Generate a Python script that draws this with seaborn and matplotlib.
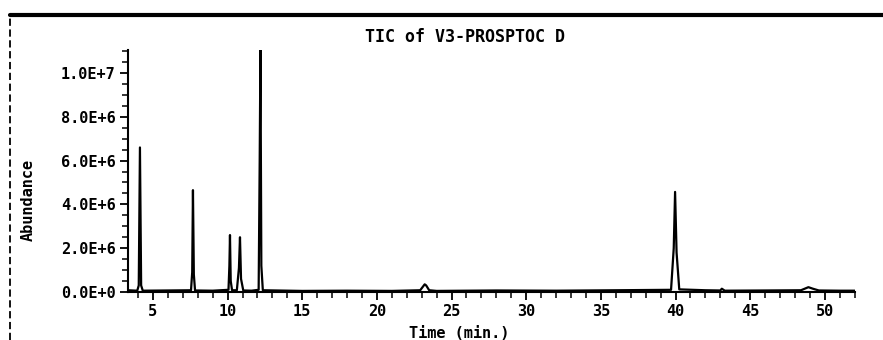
import matplotlib
matplotlib.use("Agg")
import matplotlib.pyplot as plt
from matplotlib.lines import Line2D
from matplotlib.ticker import MultipleLocator, FixedLocator
import seaborn as sns
import pandas as pd

# ---- data ----
title = "TIC of V3-PROSPTOC D"
x_label = "Time (min.)"
y_label = "Abundance"

times = [3.33, 3.95, 4.05, 4.13, 4.21, 4.32, 6.0, 7.55, 7.63, 7.68, 7.74, 7.82,
         9.0, 10.06, 10.12, 10.16, 10.21, 10.3, 10.62, 10.76, 10.83, 10.9, 11.05,
         11.6, 12.08, 12.15, 12.2, 12.26, 12.36, 15.0, 18.0, 21.0, 22.9, 23.2, 23.3,
         23.5, 24.0, 28.0, 32.0, 36.0, 39.7, 39.88, 39.97, 40.07, 40.25, 42.0, 43.0,
         43.1, 43.3, 46.0, 48.4, 48.9, 49.2, 49.6, 51.0, 52.0]
abundance = [0.08e6, 0.06e6, 0.3e6, 6.6e6, 0.3e6, 0.06e6, 0.07e6, 0.08e6, 0.9e6, 4.65e6, 0.8e6, 0.07e6,
             0.06e6, 0.1e6, 1.2e6, 2.6e6, 0.5e6, 0.08e6, 0.08e6, 1.1e6, 2.5e6, 0.6e6, 0.07e6,
             0.06e6, 0.1e6, 6.0e6, 11.05e6, 1.2e6, 0.08e6, 0.05e6, 0.06e6, 0.05e6, 0.08e6, 0.35e6, 0.3e6,
             0.08e6, 0.05e6, 0.07e6, 0.06e6, 0.08e6, 0.1e6, 2.0e6, 4.57e6, 1.8e6, 0.12e6, 0.08e6, 0.07e6,
             0.15e6, 0.06e6, 0.07e6, 0.08e6, 0.22e6, 0.15e6, 0.07e6, 0.06e6, 0.06e6]

x_ticks = [5, 10, 15, 20, 25, 30, 35, 40, 45, 50]
y_ticks = [0, 2e6, 4e6, 6e6, 8e6, 1e7]
y_tick_labels = ["0.0E+0", "2.0E+6", "4.0E+6", "6.0E+6", "8.0E+6", "1.0E+7"]

df = pd.DataFrame({"Time": times, "Abundance": abundance})

sns.set_theme(style="white")
plt.rcParams["font.family"] = ["DejaVu Sans Mono", "DejaVu Sans"]
plt.rcParams["font.weight"] = "bold"
plt.rcParams["text.color"] = "black"

W, H = 883, 340
fig = plt.figure(figsize=(W / 100, H / 100), dpi=100)
ax = fig.add_axes([128 / W, 1 - 292 / H, (855 - 128) / W, (292 - 50) / H])

sns.lineplot(data=df, x="Time", y="Abundance", sort=False, estimator=None,
             color="black", linewidth=1.6, ax=ax)

ax.set_xlim(3.33, 52.02)
ax.set_ylim(0, 11.05e6)

ax.xaxis.set_major_locator(FixedLocator(x_ticks))
ax.xaxis.set_minor_locator(MultipleLocator(1))
ax.set_xticklabels([str(t) for t in x_ticks])
ax.yaxis.set_major_locator(FixedLocator(y_ticks))
ax.yaxis.set_minor_locator(MultipleLocator(5e5))
ax.set_yticklabels(y_tick_labels)

ax.tick_params(axis="both", which="major", direction="out", length=6, width=1.3,
               color="black", labelsize=11, labelcolor="black", pad=3)
ax.tick_params(axis="both", which="minor", direction="out", length=4, width=1.1,
               color="black")
ax.tick_params(axis="x", bottom=True, which="both")
ax.tick_params(axis="y", left=True, which="both")

for s in ["top", "right"]:
    ax.spines[s].set_visible(False)
for s in ["left", "bottom"]:
    ax.spines[s].set_color("black")
    ax.spines[s].set_linewidth(1.5)

ax.set_xlabel("")
ax.set_ylabel("")
fig.text(459 / W, 1 - 333 / H, x_label, ha="center", va="center", fontsize=11,
         fontweight="bold", color="black")
fig.text(28 / W, 1 - 200 / H, y_label, ha="center", va="center", rotation=90,
         fontsize=11, fontweight="bold", color="black")
fig.text(465 / W, 1 - 37 / H, title, ha="center", va="center", fontsize=12,
         fontweight="bold", color="black")

# scanned page borders
fig.add_artist(Line2D([10 / W, 1.0], [1 - 15 / H, 1 - 15 / H], color="black", linewidth=3))
fig.add_artist(Line2D([10 / W, 10 / W], [0, 1 - 15 / H], color="black", linewidth=1.3,
                      linestyle=(0, (4, 2))))

fig.savefig("out.png", dpi=100)
